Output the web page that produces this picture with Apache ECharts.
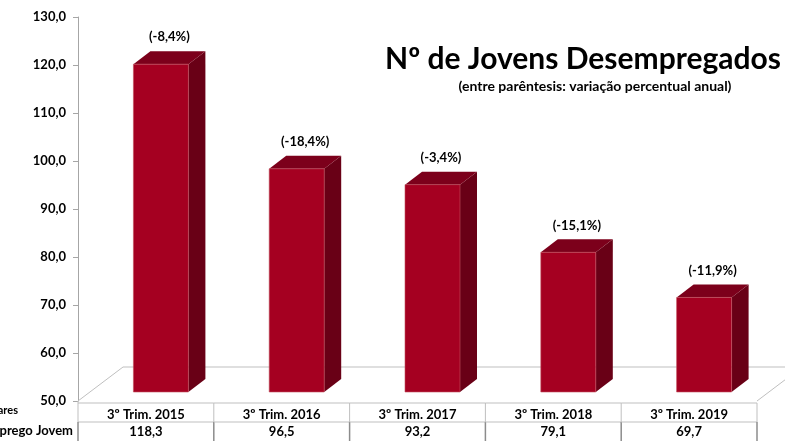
<!DOCTYPE html>
<html><head><meta charset="utf-8">
<script src="https://cdn.jsdelivr.net/npm/echarts@6/dist/echarts.min.js"></script>
<style>html,body{margin:0;padding:0;background:#fff}#c{width:785px;height:441px}</style>
</head><body><div id="c"></div>
<script>
const categories = ['3º Trim. 2015', '3º Trim. 2016', '3º Trim. 2017', '3º Trim. 2018', '3º Trim. 2019'];
const values = [118.3, 96.5, 93.2, 79.1, 69.7];
const changes = ['(-8,4%)', '(-18,4%)', '(-3,4%)', '(-15,1%)', '(-11,9%)'];
const valueLabels = ['118,3', '96,5', '93,2', '79,1', '69,7'];
const rowLabel = 'Desemprego Jovem';
const unitLabel = 'Milhares';
const titleText = 'Nº de Jovens Desempregados';
const subtitleText = '(entre parêntesis: variação percentual anual)';

const FONT = 'Lato, "Liberation Sans", sans-serif';
const FRONT = '#A50021', SIDE = '#690016', TOP = '#7C001B';
const DX = 17, DY = -13, SHIFT_X = 15, SHIFT_Y = -9, BAR_W = 55;
const FLOOR_DX = 45, FLOOR_DY = -34;

const chart = echarts.init(document.getElementById('c'));

function renderItem(params, api) {
  const i = api.value(0), v = api.value(1);
  const base = api.coord([i, 50]);
  const topPt = api.coord([i, v]);
  const band = api.size([1, 0])[0];
  const cx = base[0];
  const left = cx + SHIFT_X - BAR_W / 2, right = left + BAR_W;
  const top = topPt[1] + SHIFT_Y, bottom = base[1] + SHIFT_Y;
  const children = [];
  const gl = params.coordSys.x, gw = params.coordSys.width, gb = params.coordSys.y + params.coordSys.height;
  if (params.dataIndex === 0) {
    const ln = {stroke: '#BFBFBF', lineWidth: 1};
    children.push({type: 'line', shape: {x1: gl, y1: gb, x2: gl + FLOOR_DX, y2: gb + FLOOR_DY}, style: ln});
    children.push({type: 'line', shape: {x1: gl + FLOOR_DX, y1: gb + FLOOR_DY, x2: gl + gw + FLOOR_DX + 40, y2: gb + FLOOR_DY}, style: ln});
    children.push({type: 'line', shape: {x1: gl + gw, y1: gb, x2: gl + gw + FLOOR_DX, y2: gb + FLOOR_DY}, style: ln});
  }
  // bar
  children.push({type: 'polygon', shape: {points: [[right, top], [right + DX, top + DY], [right + DX, bottom + DY], [right, bottom]]}, style: {fill: SIDE}});
  children.push({type: 'polygon', shape: {points: [[left, top], [left + DX, top + DY], [right + DX, top + DY], [right, top]]}, style: {fill: TOP}});
  children.push({type: 'rect', shape: {x: left, y: top, width: BAR_W, height: bottom - top}, style: {fill: FRONT, stroke: '#C2505F', lineWidth: 0.6}});
  children.push({type: 'text', style: {text: changes[i], x: left + BAR_W / 2 + DX / 2, y: top + DY - 14, textAlign: 'center', textVerticalAlign: 'middle', fill: '#000', font: 'bold 13px ' + FONT}});
  // table
  const cl = cx - band / 2, cr = cx + band / 2;
  const r0 = gb + 2, r1 = gb + 21, r2 = 441;
  children.push({type: 'line', shape: {x1: cl, y1: r0, x2: cr, y2: r0}, style: {stroke: '#BFBFBF', lineWidth: 1}});
  children.push({type: 'line', shape: {x1: cl, y1: r1, x2: cr, y2: r1}, style: {stroke: '#BFBFBF', lineWidth: 1}});
  children.push({type: 'line', shape: {x1: cr, y1: r0, x2: cr, y2: r1}, style: {stroke: '#BFBFBF', lineWidth: 1}});
  children.push({type: 'line', shape: {x1: cr, y1: r1, x2: cr, y2: r2}, style: {stroke: '#8C8C8C', lineWidth: 1.5}});
  if (i === 0) {
    children.push({type: 'line', shape: {x1: cl, y1: gb, x2: cl, y2: r1}, style: {stroke: '#BFBFBF', lineWidth: 1}});
    children.push({type: 'line', shape: {x1: cl, y1: r1, x2: cl, y2: r2}, style: {stroke: '#8C8C8C', lineWidth: 1.5}});
  }
  children.push({type: 'text', style: {text: categories[i], x: cx, y: (r0 + r1) / 2 + 2, textAlign: 'center', textVerticalAlign: 'middle', fill: '#000', font: 'bold 13px ' + FONT}});
  children.push({type: 'text', style: {text: valueLabels[i], x: cx, y: (r1 + r2) / 2, textAlign: 'center', textVerticalAlign: 'middle', fill: '#000', font: 'bold 13px ' + FONT}});
  return {type: 'group', children};
}

chart.setOption({
  animation: false,
  grid: {left: 78, right: 28, top: 17, bottom: 40},
  xAxis: {type: 'category', data: categories, axisLine: {show: false}, axisTick: {show: false}, axisLabel: {show: false}},
  yAxis: {
    type: 'value', min: 50, max: 130, interval: 10,
    axisLine: {show: true, lineStyle: {color: '#A6A6A6'}},
    axisTick: {show: true, length: 5, lineStyle: {color: '#A6A6A6'}},
    splitLine: {show: false},
    axisLabel: {margin: 12, color: '#000', fontWeight: 'bold', fontSize: 13, fontFamily: FONT,
      formatter: v => v.toFixed(1).replace('.', ',')}
  },
  graphic: [
    {type: 'text', style: {text: titleText, x: 583, y: 59, textAlign: 'center', textVerticalAlign: 'middle', fill: '#000', font: 'bold 30px ' + FONT}},
    {type: 'text', style: {text: subtitleText, x: 595, y: 86, textAlign: 'center', textVerticalAlign: 'middle', fill: '#000', font: 'bold 14px ' + FONT}},
    {type: 'text', style: {text: unitLabel, x: 18, y: 410, textAlign: 'right', textVerticalAlign: 'middle', fill: '#000', font: 'bold 11px ' + FONT}},
    {type: 'text', style: {text: rowLabel, x: 73, y: 431, textAlign: 'right', textVerticalAlign: 'middle', fill: '#000', font: 'bold 13px ' + FONT}}
  ],
  series: [{
    type: 'custom',
    renderItem,
    clip: false,
    data: values.map((v, i) => [i, v])
  }]
});
</script></body></html>
